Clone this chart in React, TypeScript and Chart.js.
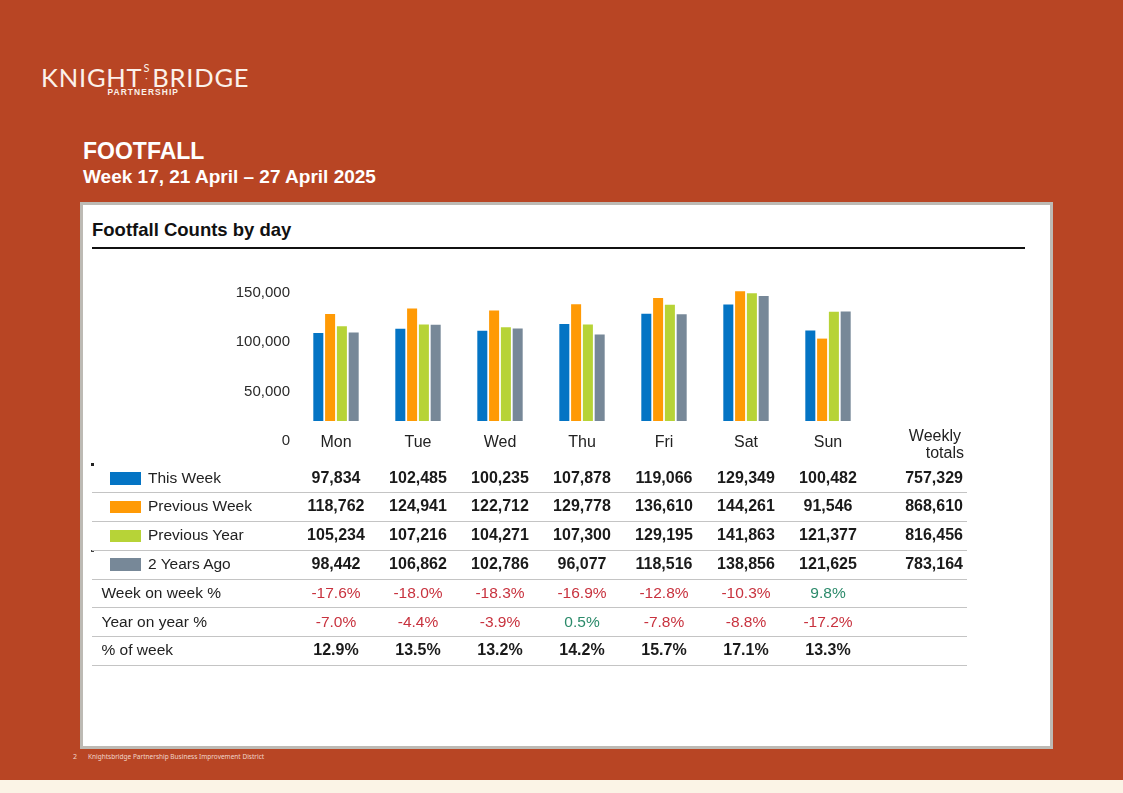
import React, { useEffect, useRef } from "react";
import { Chart, registerables } from "chart.js";

Chart.register(...registerables);

// ---- data ----
const days = ["Mon", "Tue", "Wed", "Thu", "Fri", "Sat", "Sun"];
const thisWeek = [97834, 102485, 100235, 107878, 119066, 129349, 100482];
const previousWeek = [118762, 124941, 122712, 129778, 136610, 144261, 91546];
const previousYear = [105234, 107216, 104271, 107300, 129195, 141863, 121377];
const twoYearsAgo = [98442, 106862, 102786, 96077, 118516, 138856, 121625];
const weeklyTotals = [757329, 868610, 816456, 783164];
const weekOnWeek = ["-17.6%", "-18.0%", "-18.3%", "-16.9%", "-12.8%", "-10.3%", "9.8%"];
const yearOnYear = ["-7.0%", "-4.4%", "-3.9%", "0.5%", "-7.8%", "-8.8%", "-17.2%"];
const percentOfWeek = ["12.9%", "13.5%", "13.2%", "14.2%", "15.7%", "17.1%", "13.3%"];
const yTicks = [0, 50000, 100000, 150000];
const seriesNames = ["This Week", "Previous Week", "Previous Year", "2 Years Ago"];

// ---- styles ----
const seriesColors = ["#0474C4", "#FF9A05", "#B7D337", "#778898"];
const BG = "#B84524";
const CREAM = "#FBF4E6";
const RED = "#C8323E";
const GREEN = "#2B8A6A";
const ARIAL = "'Liberation Sans', Arial, sans-serif";

const CANVAS_LEFT = 200;
const CANVAS_TOP = 260;
const CANVAS_W = 700;
const CANVAS_H = 212;
const AREA_LEFT = 295; // page x of chart area left
const COL_W = 82;
const ROW_TOP = 464.5;
const ROW_H = 28.8;

const fmt = (v: number) => v.toLocaleString("en-US");

function BarChart() {
  const ref = useRef<HTMLCanvasElement | null>(null);
  useEffect(() => {
    if (!ref.current) return;
    const series = [thisWeek, previousWeek, previousYear, twoYearsAgo];
    const chart = new Chart(ref.current, {
      type: "bar",
      data: {
        labels: days,
        datasets: series.map((d, i) => ({
          label: seriesNames[i],
          data: d,
          backgroundColor: seriesColors[i],
          yAxisID: "y",
          categoryPercentage: 0.575,
          barPercentage: 0.85,
        })),
      },
      options: {
        animation: false,
        responsive: false,
        maintainAspectRatio: false,
        layout: { padding: { top: 17, right: 31, bottom: 7.8, left: 0 } },
        plugins: { legend: { display: false }, tooltip: { enabled: false } },
        scales: {
          x: {
            grid: { display: false, drawTicks: false },
            border: { display: false },
            ticks: {
              padding: 12,
              color: "#222",
              font: { family: ARIAL, size: 16 },
            },
          },
          y: { display: false, min: 0, max: 160000 },
          y2: {
            position: "left",
            min: 20270,
            max: 166216,
            grid: { display: false, drawTicks: false },
            border: { display: false },
            afterBuildTicks: (s: any) => {
              s.ticks = yTicks.map((v) => ({ value: v }));
            },
            afterFit: (s: any) => {
              s.width = AREA_LEFT - CANVAS_LEFT;
            },
            ticks: {
              autoSkip: false,
              padding: 5,
              color: "#2a2a2a",
              font: { family: ARIAL, size: 15 },
              callback: (v: any) => fmt(Number(v)),
            },
          },
        },
      },
    } as any);
    return () => chart.destroy();
  }, []);
  return (
    <canvas
      ref={ref}
      width={CANVAS_W}
      height={CANVAS_H}
      style={{
        position: "absolute",
        left: CANVAS_LEFT,
        top: CANVAS_TOP,
        width: CANVAS_W,
        height: CANVAS_H,
      }}
    />
  );
}

function Row({
  index,
  label,
  swatch,
  cells,
  total,
  cellStyle,
}: {
  index: number;
  label: string;
  swatch?: string;
  cells: { text: string; color: string }[];
  total?: string;
  cellStyle: React.CSSProperties;
}) {
  const top = ROW_TOP + index * ROW_H;
  return (
    <div
      style={{
        position: "absolute",
        left: 92,
        top,
        width: 875,
        height: ROW_H,
        borderBottom: "1.5px solid #C4C4C4",
        boxSizing: "border-box",
        fontFamily: ARIAL,
      }}
    >
      {swatch && (
        <div
          style={{
            position: "absolute",
            left: 17.5,
            top: 7.5,
            width: 31,
            height: 12.5,
            background: swatch,
          }}
        />
      )}
      <div
        style={{
          position: "absolute",
          left: swatch ? 56 : 9.5,
          top: 0,
          height: ROW_H,
          lineHeight: ROW_H - 2 + "px",
          fontSize: 15.5,
          color: "#222",
          whiteSpace: "nowrap",
        }}
      >
        {label}
      </div>
      {cells.map((c, i) => (
        <div
          key={i}
          style={{
            position: "absolute",
            left: AREA_LEFT - 92 + i * COL_W,
            width: COL_W,
            top: 0,
            height: ROW_H,
            lineHeight: ROW_H - 2 + "px",
            textAlign: "center",
            color: c.color,
            whiteSpace: "nowrap",
            ...cellStyle,
          }}
        >
          {c.text}
        </div>
      ))}
      {total && (
        <div
          style={{
            position: "absolute",
            right: 4,
            top: 0,
            height: ROW_H,
            lineHeight: ROW_H - 2 + "px",
            textAlign: "right",
            color: "#1a1a1a",
            fontWeight: 700,
            fontSize: 16,
          }}
        >
          {total}
        </div>
      )}
    </div>
  );
}

export default function App() {
  const series = [thisWeek, previousWeek, previousYear, twoYearsAgo];
  const numStyle: React.CSSProperties = { fontSize: 16, fontWeight: 700 };
  const pctStyle: React.CSSProperties = { fontSize: 15.5, fontWeight: 400 };
  const pctColor = (t: string) => (t.startsWith("-") ? RED : GREEN);
  return (
    <div
      style={{
        position: "absolute",
        left: 0,
        top: 0,
        width: 1123,
        height: 793,
        background: BG,
        overflow: "hidden",
        fontFamily: ARIAL,
      }}
    >
      {/* cream strip */}
      <div
        style={{
          position: "absolute",
          left: 0,
          top: 780,
          width: 1123,
          height: 13,
          background: CREAM,
        }}
      />
      {/* logo */}
      <div
        style={{
          position: "absolute",
          left: 41,
          top: 68,
          height: 18,
          color: "#FBF1EA",
          fontFamily: "Lato, 'DejaVu Sans', sans-serif",
          fontWeight: 400,
          fontSize: 25.5,
          letterSpacing: 0.8,
          whiteSpace: "nowrap",
          lineHeight: "18px",
        }}
      >
        KNIGHT
        <span
          style={{
            display: "inline-block",
            fontSize: 11,
            verticalAlign: "top",
            lineHeight: "9px",
            marginTop: -5,
            marginLeft: 1,
            marginRight: 2,
            textAlign: "center",
          }}
        >
          S<br />
          <span style={{ fontSize: 9 }}>·</span>
        </span>
        BRIDGE
      </div>
      <div
        style={{
          position: "absolute",
          left: 107.5,
          top: 89,
          color: "#FBF1EA",
          fontFamily: ARIAL,
          fontWeight: 700,
          fontSize: 8.4,
          lineHeight: "7px",
          letterSpacing: 1.1,
          whiteSpace: "nowrap",
        }}
      >
        PARTNERSHIP
      </div>
      {/* titles */}
      <div
        style={{
          position: "absolute",
          left: 83,
          top: 137,
          color: "#FFFFFF",
          fontWeight: 700,
          fontSize: 23,
          lineHeight: "28px",
        }}
      >
        FOOTFALL
      </div>
      <div
        style={{
          position: "absolute",
          left: 83,
          top: 165,
          color: "#FFFFFF",
          fontWeight: 700,
          fontSize: 19,
          lineHeight: "24px",
        }}
      >
        Week 17, 21 April – 27 April 2025
      </div>
      {/* panel */}
      <div
        style={{
          position: "absolute",
          left: 80,
          top: 202,
          width: 973,
          height: 547,
          background: "#FFFFFF",
          border: "3px solid #BDBAB4",
          boxSizing: "border-box",
        }}
      />
      <div
        style={{
          position: "absolute",
          left: 92,
          top: 218,
          fontWeight: 700,
          fontSize: 18.5,
          color: "#111",
          lineHeight: "24px",
        }}
      >
        Footfall Counts by day
      </div>
      <div
        style={{
          position: "absolute",
          left: 92,
          top: 247,
          width: 933,
          height: 2,
          background: "#111",
        }}
      />
      <BarChart />
      {/* weekly totals header */}
      <div
        style={{
          position: "absolute",
          left: 860,
          width: 101,
          top: 427,
          textAlign: "right",
          fontSize: 16,
          lineHeight: "17px",
          color: "#222",
        }}
      >
        Weekly
        <br />
        <span style={{ marginRight: -3 }}>totals</span>
      </div>
      {/* stray marks */}
      <div style={{ position: "absolute", left: 91, top: 463, width: 3, height: 2.5, background: "#222" }} />
      <div style={{ position: "absolute", left: 91, top: 549.5, width: 3, height: 2, background: "#444" }} />
      {/* table */}
      {series.map((s, i) => (
        <Row
          key={i}
          index={i}
          label={seriesNames[i]}
          swatch={seriesColors[i]}
          cells={s.map((v) => ({ text: fmt(v), color: "#1a1a1a" }))}
          total={fmt(weeklyTotals[i])}
          cellStyle={numStyle}
        />
      ))}
      <Row
        index={4}
        label="Week on week %"
        cells={weekOnWeek.map((t) => ({ text: t, color: pctColor(t) }))}
        cellStyle={pctStyle}
      />
      <Row
        index={5}
        label="Year on year %"
        cells={yearOnYear.map((t) => ({ text: t, color: pctColor(t) }))}
        cellStyle={pctStyle}
      />
      <Row
        index={6}
        label="% of week"
        cells={percentOfWeek.map((t) => ({ text: t, color: "#1a1a1a" }))}
        cellStyle={numStyle}
      />
      {/* footer */}
      <div
        style={{
          position: "absolute",
          left: 73,
          top: 752,
          fontSize: 7,
          color: "#F2D6CA",
          fontFamily: "'Noto Sans', sans-serif",
        }}
      >
        2
      </div>
      <div
        style={{
          position: "absolute",
          left: 88,
          top: 752,
          fontSize: 6.5,
          color: "#F2D6CA",
          fontFamily: "'Noto Sans', sans-serif",
          whiteSpace: "nowrap",
        }}
      >
        Knightsbridge Partnership Business Improvement District
      </div>
    </div>
  );
}
